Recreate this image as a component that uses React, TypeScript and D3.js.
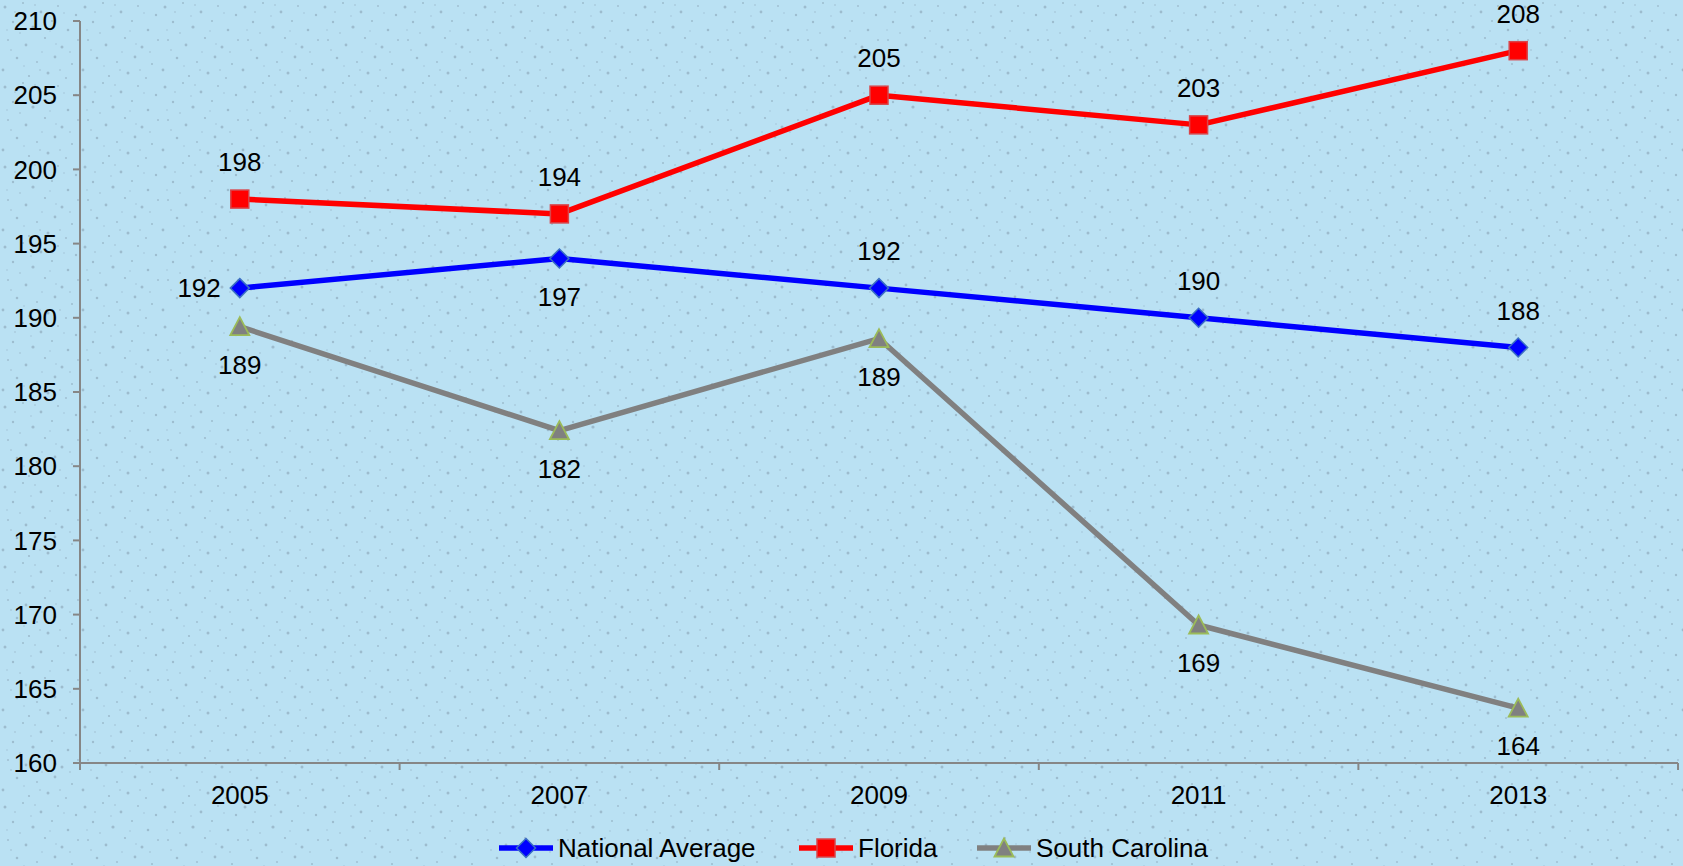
import React, { useEffect } from "react";
import * as d3 from "d3";

const years = ["2005", "2007", "2009", "2011", "2013"];
const nationalAverage = [192, 194, 192, 190, 188];
const florida = [198, 197, 205, 203, 208];
const southCarolina = [189.4, 182.4, 188.6, 169.3, 163.7];
const nationalLabels = ["192", "197", "192", "190", "188"];
const floridaLabels = ["198", "194", "205", "203", "208"];
const southCarolinaLabels = ["189", "182", "189", "169", "164"];
const nationalPlacement = ["left", "below", "above", "above", "above"];
const floridaPlacement = ["above", "above", "above", "above", "above"];
const southCarolinaPlacement = ["below", "below", "below", "below", "below"];
const yTicks = [160, 165, 170, 175, 180, 185, 190, 195, 200, 205, 210];

const W = 1683;
const H = 866;
const FONT = "'Liberation Sans', Arial, sans-serif";

// fixed speckle positions for the background texture (decoration only)
const speckles: [number, number, number][] = [
  [5, 7, 1.5], [23, 3, 1.0], [41, 12, 1.4], [58, 6, 0.9], [13, 22, 1.2], [33, 27, 1.6],
  [52, 21, 1.0], [68, 30, 1.3], [8, 40, 0.9], [26, 45, 1.4], [45, 38, 1.1], [62, 47, 1.5],
  [17, 58, 1.3], [37, 62, 0.9], [55, 57, 1.4], [72, 64, 1.0], [3, 70, 1.4], [29, 76, 1.1],
  [48, 73, 1.5], [66, 78, 0.9], [11, 50, 0.8], [76, 15, 1.2], [20, 33, 0.8], [60, 70, 0.8],
  [35, 5, 0.8], [70, 52, 0.8], [42, 52, 0.7], [15, 12, 0.8], [50, 31, 0.7], [78, 40, 0.9],
  [24, 66, 0.7], [64, 13, 0.7], [7, 30, 0.7], [40, 70, 0.8], [56, 44, 0.7], [31, 16, 0.7],
];

type Series = {
  name: string;
  values: number[];
  labels: string[];
  placement: string[];
  color: string;
  marker: "diamond" | "square" | "triangle";
  markerStroke: string;
};

const series: Series[] = [
  { name: "National Average", values: nationalAverage, labels: nationalLabels, placement: nationalPlacement, color: "#0000FF", marker: "diamond", markerStroke: "#3B6FC4" },
  { name: "Florida", values: florida, labels: floridaLabels, placement: floridaPlacement, color: "#FF0000", marker: "square", markerStroke: "#D9454A" },
  { name: "South Carolina", values: southCarolina, labels: southCarolinaLabels, placement: southCarolinaPlacement, color: "#808080", marker: "triangle", markerStroke: "#9BBB59" },
];

function Marker({ type, x, y, fill, stroke }: { type: string; x: number; y: number; fill: string; stroke: string }) {
  if (type === "square") {
    return <rect x={x - 9} y={y - 9} width={18} height={18} fill={fill} stroke={stroke} strokeWidth={1.5} />;
  }
  if (type === "diamond") {
    const r = 9.5;
    return <path d={`M${x},${y - r}L${x + r},${y}L${x},${y + r}L${x - r},${y}Z`} fill={fill} stroke={stroke} strokeWidth={1.5} />;
  }
  const r = 9.5;
  return <path d={`M${x},${y - r}L${x + r},${y + r - 1}L${x - r},${y + r - 1}Z`} fill={fill} stroke={stroke} strokeWidth={1.8} />;
}

export default function App() {
  useEffect(() => {
    document.body.style.margin = "0";
  }, []);

  const x = d3.scaleBand<string>().domain(years).range([80, 1678]);
  const y = d3.scaleLinear().domain([160, 210]).range([763, 21]);
  const cx = (yr: string) => (x(yr) ?? 0) + x.bandwidth() / 2;

  const line = d3
    .line<number>()
    .x((_, i) => cx(years[i]))
    .y((d) => y(d));

  const boundaries = [...years.map((yr) => x(yr) ?? 0), 1678];

  const legendItems = [
    { s: series[0], x0: 499 },
    { s: series[1], x0: 799 },
    { s: series[2], x0: 977 },
  ];

  return (
    <svg width={W} height={H} style={{ display: "block" }} fontFamily={FONT}>
      <defs>
        <pattern id="speck" width={80} height={80} patternUnits="userSpaceOnUse">
          {speckles.map(([px, py, r], i) => (
            <circle key={i} cx={px} cy={py} r={r} fill="#8AA3B5" opacity={0.6} />
          ))}
        </pattern>
      </defs>
      <rect width={W} height={H} fill="#BAE1F3" />
      <rect width={W} height={H} fill="url(#speck)" />

      {/* y axis */}
      <line x1={80} x2={80} y1={y(210)} y2={y(160)} stroke="#868686" strokeWidth={2} />
      {yTicks.map((t) => (
        <g key={t}>
          <line x1={73} x2={80} y1={y(t)} y2={y(t)} stroke="#868686" strokeWidth={2} />
          <text x={57} y={y(t)} dy="0.35em" textAnchor="end" fontSize={26} fill="#000">
            {t}
          </text>
        </g>
      ))}

      {/* x axis */}
      <line x1={73} x2={1678} y1={y(160)} y2={y(160)} stroke="#868686" strokeWidth={2} />
      {boundaries.map((b, i) => (
        <line key={i} x1={b} x2={b} y1={y(160)} y2={y(160) + 7} stroke="#868686" strokeWidth={2} />
      ))}
      {years.map((yr) => (
        <text key={yr} x={cx(yr)} y={795} dy="0.35em" textAnchor="middle" fontSize={26} fill="#000">
          {yr}
        </text>
      ))}

      {/* series lines */}
      {series.map((s) => (
        <path key={s.name} d={line(s.values) ?? ""} fill="none" stroke={s.color} strokeWidth={5.5} strokeLinejoin="round" />
      ))}
      {series.map((s) =>
        s.values.map((v, i) => (
          <Marker key={s.name + i} type={s.marker} x={cx(years[i])} y={y(v)} fill={s.color} stroke={s.markerStroke} />
        ))
      )}

      {/* data labels */}
      {series.map((s) =>
        s.values.map((v, i) => {
          const px = cx(years[i]);
          const py = y(v);
          const p = s.placement[i];
          let tx = px;
          let ty = py;
          let anchor: "start" | "middle" | "end" = "middle";
          if (p === "left") {
            tx = px - 19;
            anchor = "end";
          } else if (p === "above") {
            ty = py - 37;
          } else {
            ty = py + 38;
          }
          return (
            <text key={s.name + "l" + i} x={tx} y={ty} dy="0.35em" textAnchor={anchor} fontSize={26} fill="#000">
              {s.labels[i]}
            </text>
          );
        })
      )}

      {/* legend */}
      {legendItems.map(({ s, x0 }) => (
        <g key={s.name}>
          <line x1={x0} x2={x0 + 54} y1={848} y2={848} stroke={s.color} strokeWidth={5.5} />
          <Marker type={s.marker} x={x0 + 27} y={848} fill={s.color} stroke={s.markerStroke} />
          <text x={x0 + 59} y={848} dy="0.35em" fontSize={26} fill="#000">
            {s.name}
          </text>
        </g>
      ))}
    </svg>
  );
}
